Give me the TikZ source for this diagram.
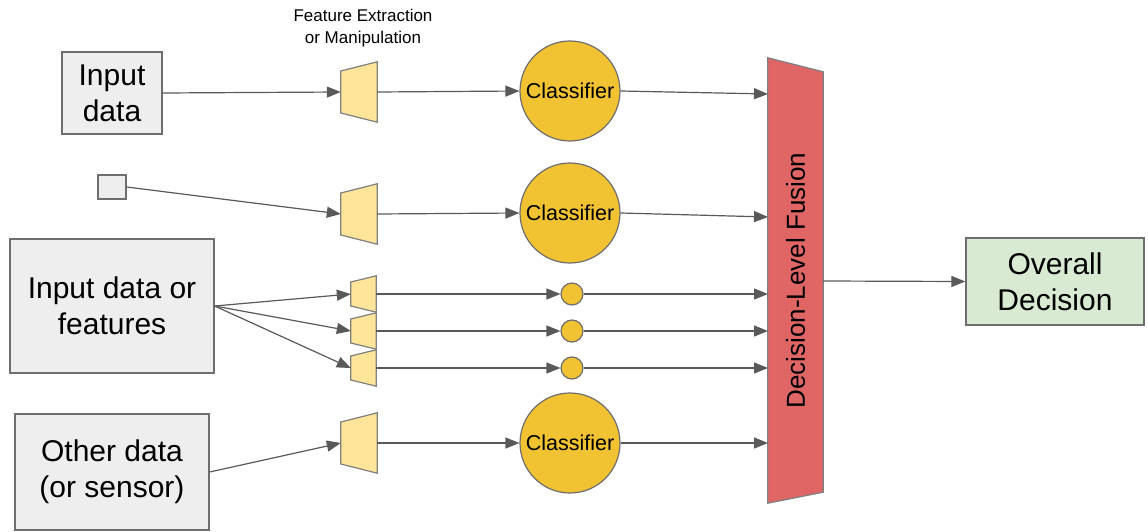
\documentclass[tikz,border=0pt]{standalone}
\usepackage{fontspec}
\setmainfont{Liberation Sans}
\usetikzlibrary{arrows.meta,calc}
\definecolor{boxfill}{HTML}{EEEEEE}
\definecolor{boxdraw}{HTML}{6E6E6E}
\definecolor{trapfill}{HTML}{FFE599}
\definecolor{trapdraw}{HTML}{7F7F7F}
\definecolor{clsfill}{HTML}{F1C232}
\definecolor{clsdraw}{HTML}{6E6E6E}
\definecolor{fusfill}{HTML}{E06666}
\definecolor{outfill}{HTML}{D9EAD3}
\definecolor{linec}{HTML}{595959}
\tikzset{
  inbox/.style={draw=boxdraw, fill=boxfill, line width=1.3pt, inner sep=0pt, align=center, font=\fontsize{30}{36}\selectfont},
  trapbox/.style={inner sep=0pt, minimum width=36pt, minimum height=60pt},
  smalltrap/.style={inner sep=0pt, minimum width=25pt, minimum height=36pt},
  trapshape/.style={draw=trapdraw, fill=trapfill, line width=1.2pt, line join=miter},
  cls/.style={circle, draw=clsdraw, fill=clsfill, line width=1.2pt, minimum size=100pt, inner sep=0pt, font=\fontsize{21.5}{24}\selectfont},
  smallcls/.style={circle, draw=clsdraw, fill=clsfill, line width=1.2pt, minimum size=22pt, inner sep=0pt},
  conn/.style={draw=linec, line width=1.2pt, -{Triangle[length=14pt, width=11pt]}},
  plain/.style={draw=linec, line width=1.2pt}
}
\begin{document}
\begin{tikzpicture}[x=1pt, y=-1pt]
\useasboundingbox (0,0) rectangle (1148,532);

% inputs
\node[inbox, minimum width=100pt, minimum height=82pt] (in1) at (112,93) {Input\\data};
\node[inbox, minimum width=28pt, minimum height=24pt] (in2) at (112,187) {};
\node[inbox, minimum width=204pt, minimum height=134pt] (in3) at (112,306) {Input data or\\features};
\node[inbox, minimum width=194pt, minimum height=116pt] (in4) at (112,472) {Other data\\(or sensor)};

% label
\node[align=center, font=\fontsize{17}{22}\selectfont] (lab) at (363,28) {Feature Extraction\\or Manipulation};

% feature extractors (trapezoids)
\node[trapbox] (t1) at (359,92) {};
\node[trapbox] (t2) at (359,214) {};
\node[smalltrap] (s1) at (363.5,294) {};
\node[smalltrap] (s2) at (363.5,331) {};
\node[smalltrap] (s3) at (363.5,368) {};
\node[trapbox] (t4) at (359,443) {};
\foreach \t in {t1,t2,t4}{
  \draw[trapshape] ($(\t.west)+(0,-21)$) -- (\t.north east) -- (\t.south east) -- ($(\t.west)+(0,21)$) -- cycle;
}
\foreach \t in {s1,s2,s3}{
  \draw[trapshape] ($(\t.west)+(0,-12)$) -- (\t.north east) -- (\t.south east) -- ($(\t.west)+(0,12)$) -- cycle;
}

% classifiers
\node[cls] (c1) at (570,91) {Classifier};
\node[cls] (c2) at (570,213) {Classifier};
\node[smallcls] (c3) at (572,294) {};
\node[smallcls] (c4) at (572,331) {};
\node[smallcls] (c5) at (572,368) {};
\node[cls] (c6) at (570,443) {Classifier};

% fusion
\node[inner sep=0pt, minimum width=55pt, minimum height=445pt] (fus) at (795.5,280.5) {};
\draw[draw=trapdraw, fill=fusfill, line width=1.2pt] (fus.north west) -- ($(fus.north east)+(0,14)$) -- ($(fus.south east)+(0,-11)$) -- (fus.south west) -- cycle;
\node[rotate=90, font=\fontsize{26}{30}\selectfont] (fuslab) at (fus.center) {Decision-Level Fusion};

% output
\node[inbox, fill=outfill, minimum width=178pt, minimum height=87pt] (out) at (1055,281.5) {Overall\\Decision};

% fusion input points
\coordinate (f1) at (768,94);
\coordinate (f2) at (768,217);
\coordinate (f3) at (768,294);
\coordinate (f4) at (768,331);
\coordinate (f5) at (768,368);
\coordinate (f6) at (768,443);
\coordinate (fo) at (823,281);

% connectors: inputs to extractors
\draw[conn] (in1.east) -- (t1.west);
\draw[conn] (in2.east) -- (t2.west);
\draw[conn] (in3.east) -- (s1.west);
\draw[conn] (in3.east) -- (s2.west);
\draw[conn] (in3.east) -- (s3.west);
\draw[conn] (in4.east) -- (t4.west);

% extractors to classifiers
\draw[conn] (t1.east) -- (c1.west);
\draw[conn] (t2.east) -- (c2.west);
\draw[conn] (s1.east) -- (c3.west);
\draw[conn] (s2.east) -- (c4.west);
\draw[conn] (s3.east) -- (c5.west);
\draw[conn] (t4.east) -- (c6.west);

% classifiers to fusion
\draw[conn] (c1.east) -- (f1);
\draw[conn] (c2.east) -- (f2);
\draw[conn] (c3.east) -- (f3);
\draw[conn] (c4.east) -- (f4);
\draw[conn] (c5.east) -- (f5);
\draw[conn] (c6.east) -- (f6);

% fusion to output
\draw[conn] (fo) -- (out.west);
\end{tikzpicture}
\end{document}
